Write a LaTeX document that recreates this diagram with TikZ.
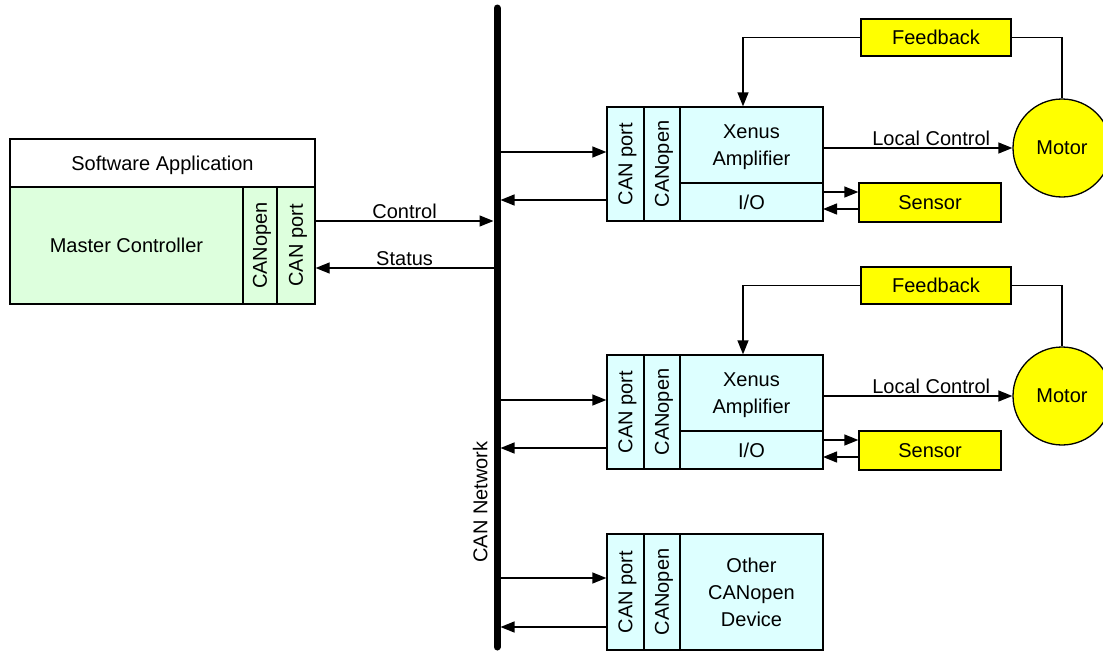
\documentclass[tikz,border=0pt]{standalone}
\usepackage{fontspec}
\setmainfont{Liberation Sans}
\usetikzlibrary{arrows.meta}
\definecolor{mcgreen}{RGB}{221,255,221}
\definecolor{ampcyan}{RGB}{221,255,255}
\definecolor{partyellow}{RGB}{255,255,0}

\begin{document}
\begin{tikzpicture}[x=1pt,y=-1pt,>={Triangle[length=14pt,width=11pt]},line width=1.3pt,
	box/.style={rectangle,draw,inner sep=0pt},
	green box/.style={box,fill=mcgreen},
	cyan box/.style={box,fill=ampcyan},
	yellow box/.style={box,fill=partyellow},
	lbl/.style={above,inner sep=2pt}]
	\tikzstyle{every node}=[font=\fontsize{20}{27}\selectfont,text depth=0pt]
	\useasboundingbox (0,0) rectangle (1103,653);
	% master side
	\node (sw) [box,minimum width=305pt,minimum height=48pt] at (162.5,163) {Software Application};
	\node (mc) [green box,minimum width=233pt,minimum height=117pt] at (126.5,245.5) {Master Controller};
	\node (mcopen) [green box,rotate=90,minimum width=117pt,minimum height=34pt] at (260,245.5) {CANopen};
	\node (mcport) [green box,rotate=90,minimum width=117pt,minimum height=38pt] at (296,245.5) {CAN port};
	% bus
	\draw [line width=7pt,line cap=round] (497,8) coordinate (bustop) -- (497,647) coordinate (busbot);
	\node (net) [rotate=90] at (480,502) {CAN Network};
	\coordinate (ctl) at (493.5,221);
	\coordinate (sts) at (493.5,268);
	\draw [->](ctl -| mcport.south) -- (ctl) node[lbl,midway] {Control};
	\draw [<-](sts -| mcport.south) -- (sts) node[lbl,midway] {Status};
	% amplifiers
	\foreach \i/\dy in {1/0,2/248}{
		\node (port\i) [cyan box,rotate=90,minimum width=114pt,minimum height=37pt] at (625.5,164+\dy) {CAN port};
		\node (open\i) [cyan box,rotate=90,minimum width=114pt,minimum height=36pt] at (662,164+\dy) {CANopen};
		\node (xen\i) [cyan box,minimum width=143pt,minimum height=76pt,align=center] at (751.5,145+\dy) {Xenus\\Amplifier};
		\node (io\i) [cyan box,minimum width=143pt,minimum height=38pt] at (751.5,202+\dy) {I/O};
		\node (fb\i) [yellow box,minimum width=150pt,minimum height=37pt] at (936,37.5+\dy) {Feedback};
		\node (sen\i) [yellow box,minimum width=142pt,minimum height=39pt] at (930,202.5+\dy) {Sensor};
		\node (mot\i) [circle,draw,fill=partyellow,minimum size=98pt,inner sep=0pt] at (1062,148+\dy) {Motor};
		\coordinate (tapa\i) at (500.5,152+\dy);
		\coordinate (tapb\i) at (500.5,200+\dy);
		\coordinate (sa\i) at (823,192+\dy);
		\coordinate (sb\i) at (823,209+\dy);
		\draw [->](tapa\i) -- (tapa\i -| port\i.north);
		\draw [<-](tapb\i) -- (tapb\i -| port\i.north);
		\draw [->](fb\i.west) -| ([xshift=-8.5pt]xen\i.north);
		\draw (fb\i.east) -| (mot\i.north);
		\draw [->](mot\i.west -| xen\i.east) -- (mot\i.west) node[lbl,pos=0.57] {Local Control};
		\draw [->](sa\i) -- (sa\i -| sen\i.west);
		\draw [<-](sb\i) -- (sb\i -| sen\i.west);
	}
	% other device
	\node (port3) [cyan box,rotate=90,minimum width=116pt,minimum height=37pt] at (625.5,592) {CAN port};
	\node (open3) [cyan box,rotate=90,minimum width=116pt,minimum height=36pt] at (662,592) {CANopen};
	\node (dev) [cyan box,minimum width=143pt,minimum height=116pt,align=center] at (751.5,592) {Other\\CANopen\\Device};
	\coordinate (tapa3) at (500.5,578);
	\coordinate (tapb3) at (500.5,627);
	\draw [->](tapa3) -- (tapa3 -| port3.north);
	\draw [<-](tapb3) -- (tapb3 -| port3.north);
\end{tikzpicture}
\end{document}
